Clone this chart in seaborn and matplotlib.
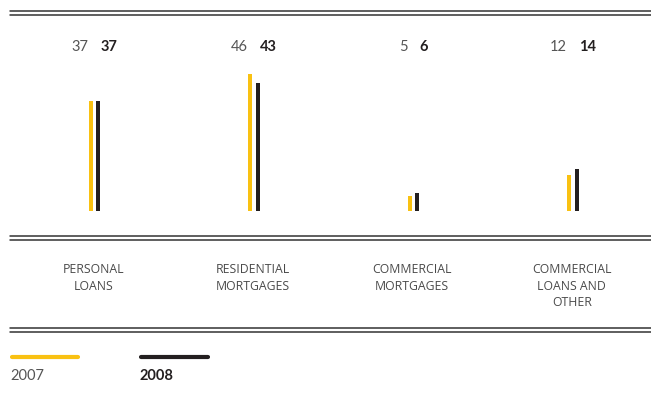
import matplotlib
matplotlib.use("Agg")
import matplotlib.pyplot as plt
import seaborn as sns
import pandas as pd
from matplotlib.lines import Line2D
from matplotlib.transforms import blended_transform_factory, offset_copy

categories = ["PERSONAL\nLOANS", "RESIDENTIAL\nMORTGAGES", "COMMERCIAL\nMORTGAGES", "COMMERCIAL\nLOANS AND\nOTHER"]
years = ["2007", "2008"]
values_2007 = [37, 46, 5, 12]
values_2008 = [37, 43, 6, 14]

YELLOW = "#F9C112"
DARK = "#231F20"
GRAY = "#555555"

df = pd.DataFrame({
    "category": categories * 2,
    "year": [years[0]] * 4 + [years[1]] * 4,
    "value": values_2007 + values_2008,
})

sns.set_theme(style="white")
plt.rcParams["font.family"] = ["Lato", "DejaVu Sans"]

W, H = 651, 404
fig = plt.figure(figsize=(W / 100, H / 100), dpi=100)

base_px = 211
top_px = 20
ax = fig.add_axes([0, (H - base_px) / H, 1, (base_px - top_px) / H])
sns.barplot(data=df, x="category", y="value", hue="year", palette=[YELLOW, DARK],
            width=0.10, gap=0.5, ax=ax, legend=False, saturation=1)
spacing = 159.5
c0 = 94.5
ax.set_xlim(-c0 / spacing, (W - c0) / spacing)
ax.set_ylim(0, (base_px - top_px) / 2.97)
ax.axis("off")
for p in ax.patches:
    p.set_linewidth(0)

# value labels
tr = blended_transform_factory(ax.transData, fig.transFigure)
ylab = 1 - 47 / H
for i, (a, b) in enumerate(zip(values_2007, values_2008)):
    ax.text(i, ylab, str(a), transform=offset_copy(tr, fig=fig, x=-4.5, units="points"),
            ha="right", va="center", fontsize=10.5, color=GRAY)
    ax.text(i, ylab, str(b), transform=offset_copy(tr, fig=fig, x=4.5, units="points"),
            ha="left", va="center", fontsize=10.5, color=DARK, fontweight="bold")

# category labels
for i, c in enumerate(categories):
    ax.text(i - 0.008, 1 - 263 / H, c, transform=tr, ha="center", va="top", fontsize=8.8,
            color="#4a4a4a", linespacing=1.35, family=["Open Sans", "DejaVu Sans"])

# double rules
for y in [11, 15, 236, 240, 328, 332]:
    fig.add_artist(Line2D([10 / W, 1], [1 - y / H, 1 - y / H], transform=fig.transFigure,
                          color="#333333", lw=1.1))

# legend
legend_y = 1 - 357 / H
for x0, x1, col, lab, tx, wt, tc in [(12, 78, YELLOW, years[0], 10, "normal", GRAY),
                                      (141, 208, DARK, years[1], 139, "bold", DARK)]:
    fig.add_artist(Line2D([x0 / W, x1 / W], [legend_y, legend_y], transform=fig.transFigure,
                          color=col, lw=3, solid_capstyle="round"))
    fig.text(tx / W, 1 - 376 / H, lab, ha="left", va="center", fontsize=10.5,
             color=tc, fontweight=wt)

fig.savefig("out.png", dpi=100, facecolor="white")
